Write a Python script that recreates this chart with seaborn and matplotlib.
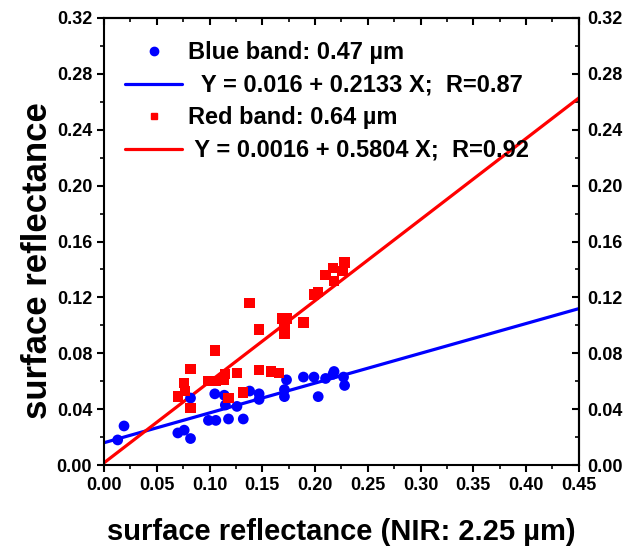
import numpy as np
import pandas as pd
import matplotlib
matplotlib.use("Agg")
import matplotlib.pyplot as plt
from matplotlib.ticker import MultipleLocator, FormatStrFormatter, NullFormatter
from matplotlib.lines import Line2D
import seaborn as sns

# ---- data ----
blue_x = [0.013, 0.019, 0.070, 0.076, 0.082, 0.082, 0.099, 0.106, 0.105, 0.114,
          0.115, 0.118, 0.126, 0.132, 0.138, 0.147, 0.147, 0.171, 0.171, 0.173,
          0.189, 0.199, 0.203, 0.210, 0.218, 0.217, 0.227, 0.228]
blue_y = [0.018, 0.028, 0.023, 0.025, 0.019, 0.048, 0.032, 0.032, 0.051, 0.050,
          0.043, 0.033, 0.042, 0.033, 0.053, 0.051, 0.047, 0.054, 0.049, 0.061,
          0.063, 0.063, 0.049, 0.062, 0.067, 0.065, 0.063, 0.057]

red_x = [0.070, 0.076, 0.077, 0.082, 0.082, 0.099, 0.106, 0.105, 0.115, 0.114,
         0.118, 0.126, 0.132, 0.138, 0.147, 0.147, 0.158, 0.166, 0.169, 0.173,
         0.171, 0.171, 0.189, 0.199, 0.203, 0.210, 0.217, 0.218, 0.226, 0.228]
red_y = [0.049, 0.059, 0.053, 0.069, 0.041, 0.060, 0.060, 0.082, 0.065, 0.061,
         0.048, 0.066, 0.052, 0.116, 0.097, 0.068, 0.067, 0.066, 0.105, 0.105,
         0.100, 0.094, 0.102, 0.122, 0.124, 0.136, 0.141, 0.132, 0.139, 0.145]

# regression coefficients from the legend
blue_fit = (0.016, 0.2133)
red_fit = (0.0016, 0.5804)
fit_x = [0.0, 0.45]

blue_label = "Blue band: 0.47 \u00b5m"
blue_fit_label = "  Y = 0.016 + 0.2133 X;  R=0.87"
red_label = "Red band: 0.64 \u00b5m"
red_fit_label = " Y = 0.0016 + 0.5804 X;  R=0.92"

x_ticks = [0.00, 0.05, 0.10, 0.15, 0.20, 0.25, 0.30, 0.35, 0.40, 0.45]
y_ticks = [0.00, 0.04, 0.08, 0.12, 0.16, 0.20, 0.24, 0.28, 0.32]

sns.set_theme(style="ticks")
plt.rcParams['font.family'] = ['Liberation Sans Narrow', 'Liberation Sans', 'DejaVu Sans']
plt.rcParams['font.weight'] = 'bold'
plt.rcParams['axes.labelweight'] = 'bold'
for k in ['text.color', 'axes.labelcolor', 'xtick.color', 'ytick.color',
          'xtick.labelcolor', 'ytick.labelcolor', 'axes.edgecolor']:
    plt.rcParams[k] = 'black'

fig = plt.figure(figsize=(6.29, 5.55), dpi=100)
ax = fig.add_axes([0.1653, 0.162, 0.755, 0.8056])

blue_line_df = pd.DataFrame({"x": fit_x, "y": [blue_fit[0] + blue_fit[1] * v for v in fit_x]})
red_line_df = pd.DataFrame({"x": fit_x, "y": [red_fit[0] + red_fit[1] * v for v in fit_x]})

sns.lineplot(data=blue_line_df, x="x", y="y", color="#0000ff", lw=2.3, ax=ax, zorder=2)
sns.lineplot(data=red_line_df, x="x", y="y", color="#ff0000", lw=2.3, ax=ax, zorder=2)
sns.scatterplot(x=blue_x, y=blue_y, color="#0000ff", marker="o", s=60, edgecolor="none", ax=ax, zorder=3)
sns.scatterplot(x=red_x, y=red_y, color="#ff0000", marker="s", s=55, edgecolor="none", ax=ax, zorder=3)

ax.set_xlim(0, 0.45)
ax.set_ylim(0, 0.32)
ax.set_xticks(x_ticks)
ax.set_yticks(y_ticks)
ax.xaxis.set_minor_locator(MultipleLocator(0.025))
ax.yaxis.set_minor_locator(MultipleLocator(0.02))
ax.xaxis.set_major_formatter(FormatStrFormatter('%.2f'))
ax.yaxis.set_major_formatter(FormatStrFormatter('%.2f'))

for s in ax.spines.values():
    s.set_linewidth(1.5)
    s.set_color('black')
    s.set_visible(True)

# left / bottom: outward ticks
ax.tick_params(axis='both', which='major', direction='out', length=5, width=1.5,
               labelsize=13, top=False, right=False)
ax.tick_params(axis='both', which='minor', direction='out', length=3, width=1.2,
               top=False, right=False)

# top: inward ticks, no labels
secx = ax.secondary_xaxis('top')
secx.set_xticks(x_ticks)
secx.xaxis.set_minor_locator(MultipleLocator(0.025))
secx.xaxis.set_major_formatter(NullFormatter())
secx.tick_params(axis='x', which='major', direction='in', length=5, width=1.5)
secx.tick_params(axis='x', which='minor', direction='in', length=3, width=1.2)
secx.spines['top'].set_linewidth(1.5)

# right: inward ticks with labels
secy = ax.secondary_yaxis('right')
secy.set_yticks(y_ticks)
secy.yaxis.set_minor_locator(MultipleLocator(0.02))
secy.yaxis.set_major_formatter(FormatStrFormatter('%.2f'))
secy.tick_params(axis='y', which='major', direction='in', length=5, width=1.5, labelsize=13, pad=6)
secy.tick_params(axis='y', which='minor', direction='in', length=3, width=1.2)
secy.spines['right'].set_linewidth(1.5)

for lab in ax.get_xticklabels() + ax.get_yticklabels() + secy.get_yticklabels():
    lab.set_fontweight('bold')

ax.set_xlabel("surface reflectance (NIR: 2.25 \u00b5m)", fontsize=21, fontweight='bold', labelpad=17)
ax.set_ylabel("surface reflectance", fontsize=25, fontweight='bold')
ax.yaxis.set_label_coords(-0.105, 0.458)

handles = [
    Line2D([], [], color="#0000ff", marker="o", ls="none", markersize=6),
    Line2D([], [], color="#0000ff", lw=2.3),
    Line2D([], [], color="#ff0000", marker="s", ls="none", markersize=5),
    Line2D([], [], color="#ff0000", lw=2.3),
]
labels = [blue_label, blue_fit_label, red_label, red_fit_label]
leg = ax.legend(handles, labels, loc="upper left", bbox_to_anchor=(0.0, 0.995), frameon=False,
                handlelength=2.4, handletextpad=0.25, labelspacing=0.4,
                prop={'weight': 'bold', 'size': 17})

fig.savefig("out.png", dpi=100)
